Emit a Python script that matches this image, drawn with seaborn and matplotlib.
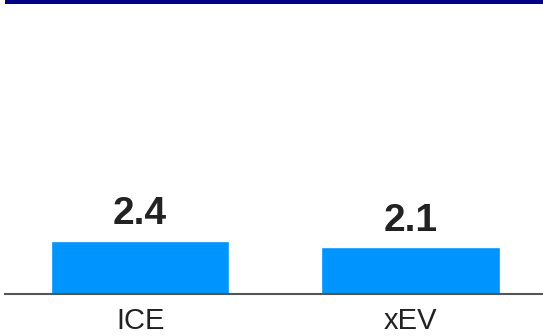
import matplotlib
matplotlib.use("Agg")
import matplotlib.pyplot as plt
import seaborn as sns
import pandas as pd
from matplotlib.patches import Rectangle

categories = ["ICE", "xEV"]
values = [2.4, 2.1]
value_labels = ["2.4", "2.1"]

sns.set_style("white")
plt.rcParams["font.family"] = ["Liberation Sans", "DejaVu Sans"]

df = pd.DataFrame({"powertrain": categories, "value": values})

fig = plt.figure(figsize=(5.43, 3.36), dpi=100)
ax = fig.add_axes([5 / 543, 1 - 294 / 336, 538 / 543, (294 - 5) / 336])

sns.barplot(data=df, x="powertrain", y="value", color="#0094FF",
            width=0.66, saturation=1, ax=ax)

ax.set_xlim(-0.5, 1.49)
ax.set_ylim(0, 13.0)

for p, lab in zip(ax.patches, value_labels):
    ax.annotate(lab, (p.get_x() + p.get_width() / 2, p.get_height()),
                xytext=(0, 6), textcoords="offset points",
                ha="center", va="bottom", fontsize=28, fontweight="bold",
                color="#222222")

ax.set_xlabel("")
ax.set_ylabel("")
ax.set_yticks([])
ax.tick_params(axis="x", length=0, labelsize=21, labelcolor="#222222", pad=9.5)
for s in ["top", "right", "left"]:
    ax.spines[s].set_visible(False)
ax.spines["bottom"].set_color("#555555")
ax.spines["bottom"].set_linewidth(1.5)

# header band
fig.patches.append(Rectangle((5 / 543, 1 - 4 / 336), 538 / 543, 4 / 336,
                             transform=fig.transFigure, facecolor="#000080",
                             edgecolor="none"))

fig.savefig("out.png", dpi=100)
